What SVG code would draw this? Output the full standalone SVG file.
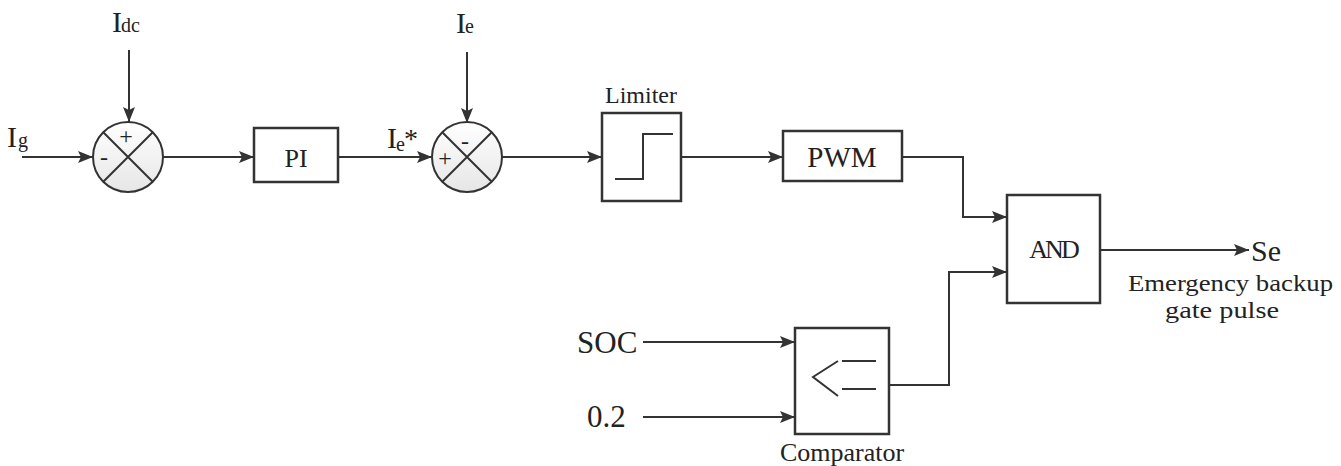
<svg xmlns="http://www.w3.org/2000/svg" width="1341" height="466" viewBox="0 0 1341 466">
<style>
.ln{fill:none;stroke:#333;stroke-width:2}
.bx{fill:#fff;stroke:#333;stroke-width:2.5}
.sm{fill:url(#cg);stroke:#333;stroke-width:2}
.t{font-family:"Liberation Serif","Times New Roman",serif;fill:#222}
</style>
<defs>
<linearGradient id="cg" x1="0" y1="0" x2="0" y2="1"><stop offset="0" stop-color="#ffffff"/><stop offset="1" stop-color="#e6e6e6"/></linearGradient>
<marker id="ar" markerUnits="userSpaceOnUse" markerWidth="16" markerHeight="12" refX="15" refY="6" orient="auto"><path d="M0,0 L15,6 L0,12 L3,6 z" fill="#333"/></marker>
</defs>
<rect width="1341" height="466" fill="#fff"/>
<g id="connectors">
<path class="ln" d="M22,157 H93" marker-end="url(#ar)"/>
<path class="ln" d="M129,50 V122" marker-end="url(#ar)"/>
<path class="ln" d="M163,157 H254" marker-end="url(#ar)"/>
<path class="ln" d="M338,157 H432" marker-end="url(#ar)"/>
<path class="ln" d="M467,52 V123" marker-end="url(#ar)"/>
<path class="ln" d="M502,157 H602" marker-end="url(#ar)"/>
<path class="ln" d="M681,157 H783" marker-end="url(#ar)"/>
<path class="ln" d="M902,157 H963 V217 H1007" marker-end="url(#ar)"/>
<path class="ln" d="M889,385 H949 V272 H1007" marker-end="url(#ar)"/>
<path class="ln" d="M643,342 H795" marker-end="url(#ar)"/>
<path class="ln" d="M643,417 H795" marker-end="url(#ar)"/>
<path class="ln" d="M1100,250 H1249" marker-end="url(#ar)"/>
</g>
<g id="sum1">
<circle class="sm" cx="128" cy="157" r="35"/>
<path class="ln" d="M103,132 L153,182 M153,132 L103,182"/>
<text class="t" x="126" y="144" font-size="24" text-anchor="middle">+</text>
<text class="t" x="104" y="165" font-size="24" text-anchor="middle">-</text>
</g>
<g id="sum2">
<circle class="sm" cx="467" cy="157" r="35"/>
<path class="ln" d="M442,132 L492,182 M492,132 L442,182"/>
<text class="t" x="465" y="149" font-size="24" text-anchor="middle">-</text>
<text class="t" x="445" y="166" font-size="24" text-anchor="middle">+</text>
</g>
<g id="pi">
<rect class="bx" x="254" y="128" width="84" height="54"/>
<text class="t" x="296" y="167" font-size="26" text-anchor="middle">PI</text>
</g>
<g id="limiter">
<rect class="bx" x="602" y="113" width="79" height="88"/>
<path class="ln" d="M615,179 H643 V134 H673"/>
<text class="t" x="641" y="103" font-size="24" text-anchor="middle">Limiter</text>
</g>
<g id="pwm">
<rect class="bx" x="783" y="131" width="119" height="50"/>
<text class="t" x="842" y="167" font-size="29" text-anchor="middle">PWM</text>
</g>
<g id="and">
<rect class="bx" x="1007" y="195" width="93" height="108"/>
<text class="t" x="1053" y="258" font-size="26" text-anchor="middle" letter-spacing="-3">AND</text>
</g>
<g id="comparator">
<rect class="bx" x="795" y="328" width="94" height="106"/>
<path class="ln" d="M838,361 L813,377 L838,396 M842,361 H876 M842,389 H876"/>
<text class="t" x="842" y="461" font-size="26" text-anchor="middle">Comparator</text>
</g>
<g id="labels">
<text class="t" x="7" y="147" font-size="30">I</text><text class="t" x="18" y="147" font-size="20">g</text>
<text class="t" x="112" y="32" font-size="30">I</text><text class="t" x="121" y="32" font-size="20">dc</text>
<text class="t" x="456" y="33" font-size="30">I</text><text class="t" x="465" y="33" font-size="20">e</text>
<text class="t" x="387" y="148" font-size="30">I</text><text class="t" x="396" y="151" font-size="20">e</text><text class="t" x="404" y="148" font-size="28">*</text>
<text class="t" x="577" y="353" font-size="31">SOC</text>
<text class="t" x="587" y="427" font-size="31">0.2</text>
<text class="t" x="1251" y="261" font-size="30">Se</text>
<text class="t" x="1128" y="291" font-size="24" textLength="205" lengthAdjust="spacingAndGlyphs">Emergency backup</text>
<text class="t" x="1165" y="318" font-size="24" textLength="114" lengthAdjust="spacingAndGlyphs">gate pulse</text>
</g>
</svg>
